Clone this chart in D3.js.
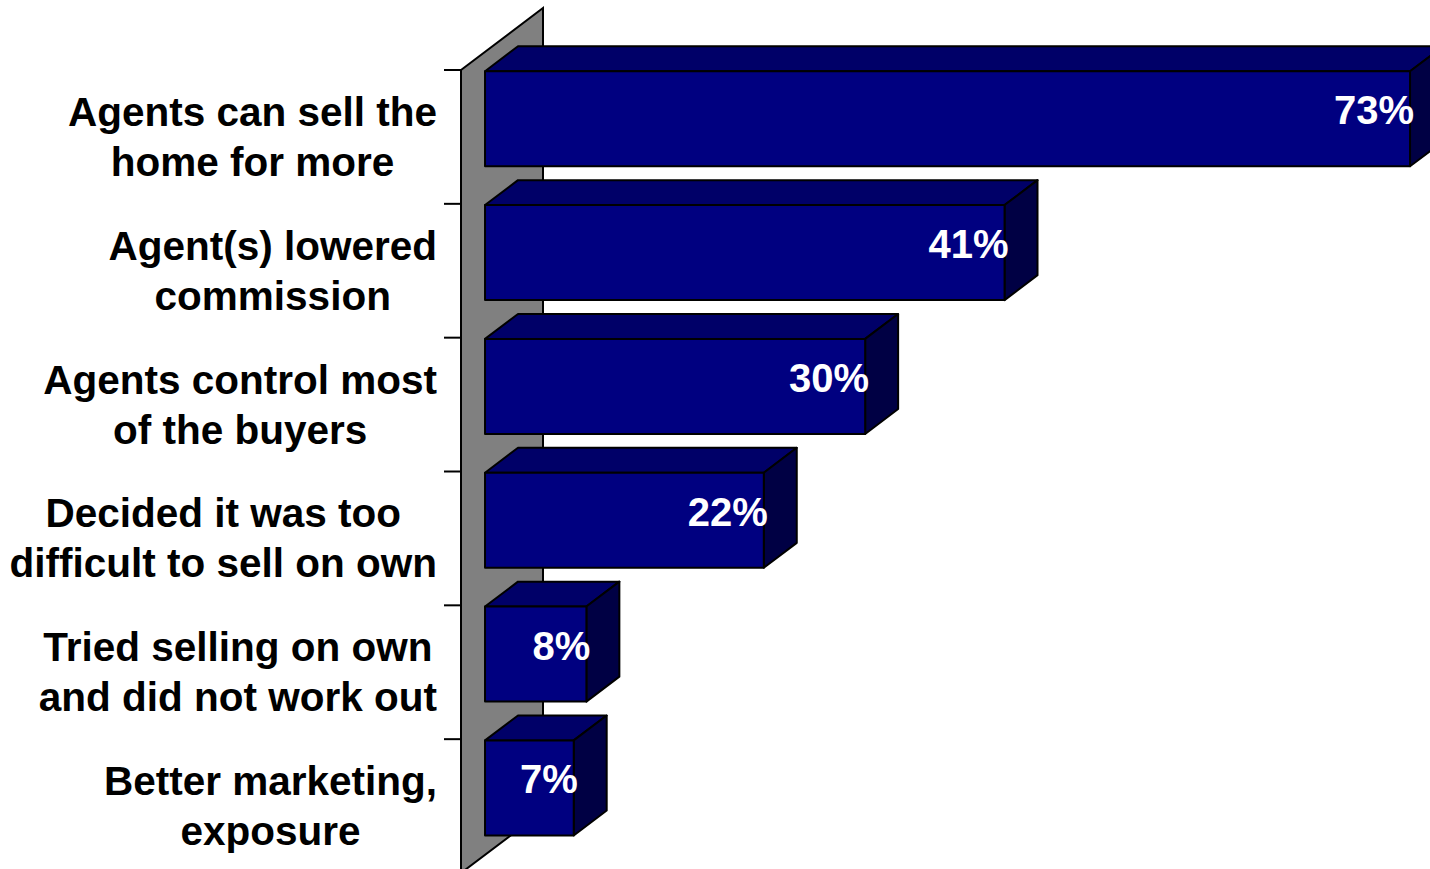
<!DOCTYPE html>
<html>
<head>
<meta charset="utf-8">
<script src="https://cdn.jsdelivr.net/npm/d3@7"></script>
<style>
  html, body { margin: 0; padding: 0; background: #ffffff; }
  svg { display: block; }
  text { font-family: "Liberation Sans", Arial, Helvetica, sans-serif; font-weight: bold; }
</style>
</head>
<body>
<svg id="chart" width="1430" height="869"></svg>
<script>
// Reasons for choosing an agent (share of sellers)
const categories = [
  ["Agents can sell the", "home for more"],
  ["Agent(s) lowered", "commission"],
  ["Agents control most", "of the buyers"],
  ["Decided it was too", "difficult to sell on own"],
  ["Tried selling on own", "and did not work out"],
  ["Better marketing,", "exposure"]
];
const values = [73, 41, 30, 22, 8, 7];
const valueLabels = ["73%", "41%", "30%", "22%", "8%", "7%"];

const W = 1430, H = 869;
const svg = d3.select("#chart");

// 3D wall depth (screen offset from front edge to back edge)
const DX = 82, DY = 62;
// bars occupy this slice of the wall depth
const zFront = 0.293, zBack = 0.695;
const proj = (px, py, z) => [px + z * DX, py - z * DY];

const x = d3.scaleLinear().domain([0, 80]).range([461, 461 + 80 * 925 / 73]);
const y = d3.scaleBand()
  .domain(d3.range(categories.length))
  .range([70, 873])
  .paddingInner(0.29)
  .paddingOuter(0.145);

const x0 = x(0);
const yTop = y.range()[0], yBot = y.range()[1];

// category wall
svg.append("polygon")
  .attr("points", [[x0, yTop], proj(x0, yTop, 1), proj(x0, yBot, 1), [x0, yBot]].map(p => p.join(",")).join(" "))
  .attr("fill", "#808080")
  .attr("stroke", "#000")
  .attr("stroke-width", 2)
  .attr("stroke-linejoin", "miter");

// tick marks at the category boundaries
svg.append("g").selectAll("line")
  .data(d3.range(categories.length + 1))
  .join("line")
  .attr("x1", x0 - 17).attr("x2", x0)
  .attr("y1", i => yTop + i * y.step())
  .attr("y2", i => yTop + i * y.step())
  .attr("stroke", "#000")
  .attr("stroke-width", 2);

// bars
const bars = svg.append("g").selectAll("g")
  .data(values)
  .join("g");

const pts = arr => arr.map(p => p.join(",")).join(" ");

bars.append("polygon")
  .attr("points", (v, i) => {
    const y0 = y(i), x1 = x(v);
    return pts([proj(x0, y0, zFront), proj(x1, y0, zFront), proj(x1, y0, zBack), proj(x0, y0, zBack)]);
  })
  .attr("fill", "#000068")
  .attr("stroke", "#000").attr("stroke-width", 2).attr("stroke-linejoin", "round");

bars.append("polygon")
  .attr("points", (v, i) => {
    const y0 = y(i), y1 = y0 + y.bandwidth(), x1 = x(v);
    return pts([proj(x1, y0, zFront), proj(x1, y0, zBack), proj(x1, y1, zBack), proj(x1, y1, zFront)]);
  })
  .attr("fill", "#000044")
  .attr("stroke", "#000").attr("stroke-width", 2).attr("stroke-linejoin", "round");

bars.append("polygon")
  .attr("points", (v, i) => {
    const y0 = y(i), y1 = y0 + y.bandwidth(), x1 = x(v);
    return pts([proj(x0, y0, zFront), proj(x1, y0, zFront), proj(x1, y1, zFront), proj(x0, y1, zFront)]);
  })
  .attr("fill", "#000080")
  .attr("stroke", "#000").attr("stroke-width", 2).attr("stroke-linejoin", "round");

// value labels
bars.append("text")
  .attr("x", v => proj(x(v), 0, zFront)[0] + 4)
  .attr("y", (v, i) => proj(0, y(i), zFront)[1] + 53)
  .attr("text-anchor", "end")
  .attr("fill", "#ffffff")
  .attr("font-size", 40)
  .text((v, i) => valueLabels[i]);

// category labels: block right-aligned to the tick marks, lines centred within it
const labelRight = 437;
const lineH = 50;
const labels = svg.append("g").selectAll("g")
  .data(categories)
  .join("g");

labels.each(function(lines, i) {
  const g = d3.select(this);
  const cy = yTop + (i + 0.5) * y.step();
  const texts = g.selectAll("text")
    .data(lines)
    .join("text")
    .attr("font-size", 40.5)
    .attr("fill", "#000")
    .attr("text-anchor", "middle")
    .attr("y", (d, j) => cy + (j - (lines.length - 1) / 2) * lineH + 14)
    .text(d => d);
  let maxW = 0;
  texts.each(function() { maxW = Math.max(maxW, this.getComputedTextLength()); });
  texts.attr("x", labelRight - maxW / 2);
});
</script>
</body>
</html>
